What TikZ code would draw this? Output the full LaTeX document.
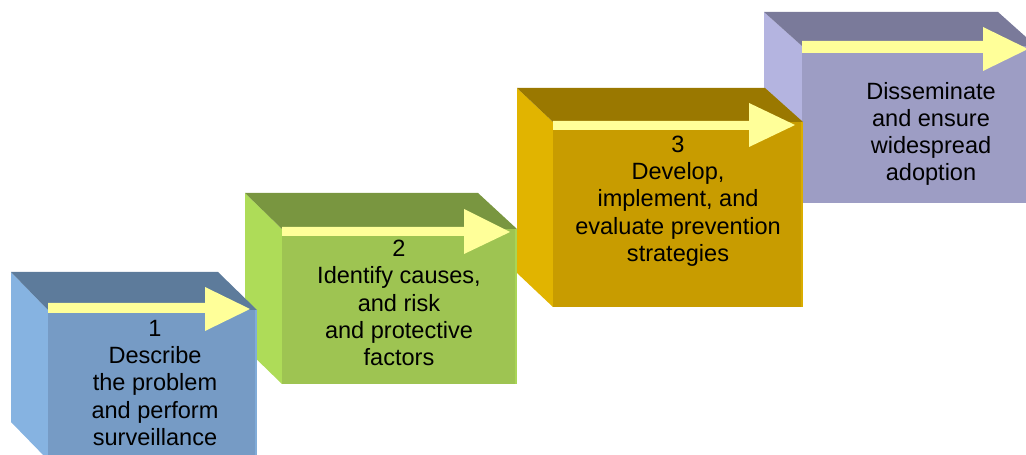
\documentclass[tikz,border=0pt]{standalone}
\usepackage{fontspec}
\setmainfont{Liberation Sans}
\usetikzlibrary{positioning}

\definecolor{blueL}{HTML}{86B3E1}
\definecolor{blueT}{HTML}{5D7B9B}
\definecolor{blueF}{HTML}{769BC5}
\definecolor{greenL}{HTML}{AEDC58}
\definecolor{greenT}{HTML}{799640}
\definecolor{greenF}{HTML}{9EC452}
\definecolor{goldL}{HTML}{E1B400}
\definecolor{goldT}{HTML}{9A7800}
\definecolor{goldF}{HTML}{C89C00}
\definecolor{lilacL}{HTML}{B4B4E0}
\definecolor{lilacT}{HTML}{7A7A9A}
\definecolor{lilacF}{HTML}{9D9DC4}
\definecolor{arrowY}{HTML}{FFFF99}

\begin{document}
\begin{tikzpicture}[x=0.02cm,y=-0.02cm,
  steptext/.style={font=\fontsize{13.4}{15.5}\selectfont, align=center, text=black},
  yarrow/.style={fill=arrowY}]

\useasboundingbox (0,0) rectangle (1026,455);
\clip (0,0) rectangle (1026,455);

%% step 4 (back)
\fill[lilacL] (764,12) --(802,46) --(802,203) --(764,169) --cycle;
\fill[lilacT] (764,12) --(998,12) --(1036,46) --(802,46) --cycle;
\fill[lilacF] (802,46) rectangle (1036,203);
\fill[yarrow] (802,41) --(983,41) --(983,27) --(1028,49) --(983,71) --(983,53) --(802,53) --cycle;
\node[steptext] (s4) at (931,134) {Disseminate\\and ensure\\widespread\\adoption};

%% step 3
\fill[goldL] (517,88) --(553,122) --(553,307) --(517,273) --cycle;
\fill[goldT] (517,88) --(765,88) --(803,122) --(553,122) --cycle;
\fill[goldF] (553,122) rectangle (803,307);
\draw[goldL!70!goldF, line width=1.2pt] (802,122) --(802,307);
\fill[yarrow] (553,121) --(749,121) --(749,103) --(795,125) --(749,147) --(749,130) --(553,130) --cycle;
\node[steptext] (s3) at (678,201) {3\\Develop,\\implement, and\\evaluate prevention\\strategies};

%% step 2
\fill[greenL] (245,193) --(282,229) --(282,384) --(245,348) --cycle;
\fill[greenT] (245,193) --(478,193) --(517,229) --(282,229) --cycle;
\fill[greenF] (282,229) rectangle (517,384);
\draw[greenL!70!greenF, line width=1.2pt] (516,229) --(516,384);
\fill[yarrow] (282,227) --(464,227) --(464,209) --(510,232) --(464,254) --(464,236) --(282,236) --cycle;
\node[steptext] (s2) at (399,303) {2\\Identify causes,\\and risk\\and protective\\factors};

%% step 1 (front)
\fill[blueL] (11,272) --(48,310) --(48,460) --(11,422) --cycle;
\fill[blueT] (11,272) --(218,272) --(257,310) --(48,310) --cycle;
\fill[blueF] (48,310) rectangle (257,460);
\draw[blueL!70!blueF, line width=1.2pt] (256,310) --(256,460);
\fill[yarrow] (48,303) --(205,303) --(205,287) --(250,309) --(205,331) --(205,313) --(48,313) --cycle;
\node[steptext] (s1) at (155,383) {1\\Describe\\the problem\\and perform\\surveillance};

\end{tikzpicture}
\end{document}
